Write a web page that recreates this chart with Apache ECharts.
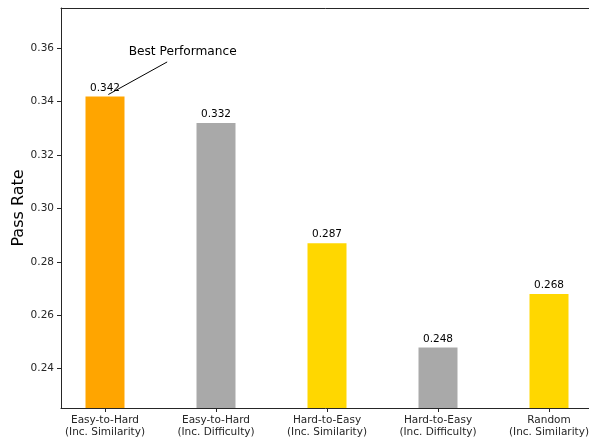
<!DOCTYPE html>
<html>
<head>
<meta charset="utf-8">
<script src="https://cdn.jsdelivr.net/npm/echarts@6/dist/echarts.min.js"></script>
<style>
  html, body { margin: 0; padding: 0; background: #fff; }
  #chart { width: 589px; height: 441px; }
</style>
</head>
<body>
<div id="chart"></div>
<script>
// Pass rate for each curriculum ordering strategy
const categories = [
  'Easy-to-Hard\n(Inc. Similarity)',
  'Easy-to-Hard\n(Inc. Difficulty)',
  'Hard-to-Easy\n(Inc. Similarity)',
  'Hard-to-Easy\n(Inc. Difficulty)',
  'Random\n(Inc. Similarity)'
];
const passRates = [0.342, 0.332, 0.287, 0.248, 0.268];
const barColors = ['#FFA500', '#A9A9A9', '#FFD700', '#A9A9A9', '#FFD700'];
const yTicks = [0.24, 0.26, 0.28, 0.30, 0.32, 0.34, 0.36];
const annotationText = 'Best Performance';

const FONT = 'DejaVu Sans';
const AXIS_COLOR = '#262626';
const Y_MIN = 0.2253, Y_MAX = 0.3751;
const positions = categories.map((_, i) => i);
const best = passRates.indexOf(Math.max(...passRates));

// pixel geometry: 111px per category, first centre 44px right of the frame
const PLOT_LEFT = 61, PLOT_TOP = 8, PLOT_BOTTOM = 33;
const STEP = 111, FIRST = 44;
const barGridLeft = PLOT_LEFT + FIRST - STEP / 2;
const barGridWidth = STEP * categories.length;
const frameWidth = 589 + 3.6 - PLOT_LEFT;
const frameMin = -FIRST / STEP;
const frameMax = frameMin + frameWidth / STEP;

const chart = echarts.init(document.getElementById('chart'), null, { renderer: 'canvas' });

const hiddenAxis = {
  axisLine: { show: false }, axisTick: { show: false },
  axisLabel: { show: false }, splitLine: { show: false }
};

chart.setOption({
  animation: false,
  backgroundColor: '#ffffff',
  textStyle: { fontFamily: FONT },
  grid: [
    // bars
    { left: barGridLeft, width: barGridWidth, top: PLOT_TOP, bottom: PLOT_BOTTOM,
      containLabel: false, outerBoundsMode: 'none' },
    // frame, ticks, labels and annotation
    { left: PLOT_LEFT, width: frameWidth, top: PLOT_TOP, bottom: PLOT_BOTTOM,
      containLabel: false, outerBoundsMode: 'none' }
  ],
  xAxis: [
    Object.assign({ type: 'category', gridIndex: 0, data: categories, boundaryGap: true }, hiddenAxis),
    {
      type: 'value',
      gridIndex: 1,
      min: frameMin,
      max: frameMax,
      splitLine: { show: false },
      axisLine: { show: true, onZero: false, lineStyle: { color: AXIS_COLOR, width: 1 } },
      axisTick: { show: true, customValues: positions, length: 4, lineStyle: { color: AXIS_COLOR } },
      axisLabel: {
        customValues: positions,
        formatter: v => categories[Math.round(v)],
        color: '#262626',
        fontFamily: FONT,
        fontSize: 10.5,
        lineHeight: 12,
        margin: 6,
        hideOverlap: false
      }
    },
    {
      type: 'value',
      gridIndex: 1,
      position: 'top',
      min: frameMin,
      max: frameMax,
      splitLine: { show: false },
      axisLine: { show: true, onZero: false, lineStyle: { color: AXIS_COLOR, width: 1 } },
      axisTick: { show: false },
      axisLabel: { show: false }
    }
  ],
  yAxis: [
    Object.assign({ type: 'value', gridIndex: 0, min: Y_MIN, max: Y_MAX }, hiddenAxis),
    {
      type: 'value',
      gridIndex: 1,
      min: Y_MIN,
      max: Y_MAX,
      name: 'Pass Rate',
      nameLocation: 'middle',
      nameGap: 34,
      nameMoveOverlap: false,
      nameTextStyle: { fontFamily: FONT, fontSize: 16, color: '#000' },
      splitLine: { show: false },
      axisLine: { show: true, onZero: false, lineStyle: { color: AXIS_COLOR, width: 1 } },
      axisTick: { show: true, customValues: yTicks, length: 4, lineStyle: { color: AXIS_COLOR } },
      axisLabel: {
        customValues: yTicks,
        formatter: v => v.toFixed(2),
        color: '#262626',
        fontFamily: FONT,
        fontSize: 10.5,
        margin: 7
      }
    }
  ],
  series: [
    {
      type: 'bar',
      xAxisIndex: 0,
      yAxisIndex: 0,
      barWidth: 39,
      data: passRates.map((v, i) => ({
        value: v,
        itemStyle: { color: barColors[i] }
      })),
      label: {
        show: true,
        position: 'top',
        distance: 3,
        formatter: p => p.value.toFixed(3),
        fontFamily: FONT,
        fontSize: 10.5,
        color: '#000'
      }
    },
    {
      // annotation pointing at the best-performing strategy
      type: 'scatter',
      xAxisIndex: 1,
      yAxisIndex: 1,
      symbolSize: 0,
      silent: true,
      data: [[best, passRates[best]]],
      markLine: {
        silent: true,
        symbol: ['none', 'arrow'],
        symbolSize: [0, 8],
        label: { show: false },
        lineStyle: { color: '#000', width: 1, type: 'solid' },
        data: [[
          { coord: [best + 0.56, 0.3549] },
          { coord: [best + 0.03, passRates[best] + 0.0007] }
        ]]
      },
      markPoint: {
        silent: true,
        symbol: 'circle',
        symbolSize: 0,
        label: {
          show: true,
          position: 'inside',
          formatter: annotationText,
          fontFamily: FONT,
          fontSize: 12.2,
          color: '#000'
        },
        data: [{ coord: [best + 0.70, 0.3586] }]
      }
    }
  ]
});
</script>
</body>
</html>
